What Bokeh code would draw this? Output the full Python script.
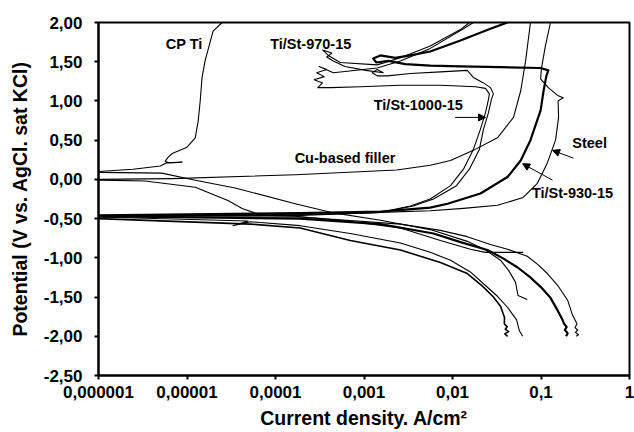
from bokeh.plotting import figure
from bokeh.models import FixedTicker, CustomJSTickFormatter, Label, Arrow, NormalHead
from bokeh.embed import file_html
from bokeh.resources import INLINE

FONT = "Liberation Sans"

# ---- data: current density (A/cm2) and potential (V vs AgCl) ----
cpti_cath_i = [7.0e-2, 5.5e-2, 5.15e-2, 4.3e-2, 3.48e-2, 2.36e-2, 1.47e-2, 5.6e-3, 1.53e-3, 4.2e-4, 1.67e-4, 3.5e-5, 1.24e-5, 5.2e-6, 1.0e-6]
cpti_cath_e = [-1.53, -1.48, -1.31, -1.16, -1.03, -0.90, -0.79, -0.64, -0.52, -0.42, -0.31, -0.11, -0.01, 0.08, 0.09]
cpti_anod_i = [1.0e-6, 2.45e-6, 5.0e-6, 5.8e-6, 8.8e-6, 6.4e-6, 5.65e-6, 6.1e-6, 6.8e-6, 1.0e-5, 1.24e-5, 1.34e-5, 1.41e-5, 1.48e-5, 1.6e-5, 1.97e-5, 2.5e-5]
cpti_anod_e = [0.10, 0.13, 0.17, 0.21, 0.22, 0.21, 0.23, 0.28, 0.33, 0.41, 0.53, 0.75, 1.00, 1.30, 1.51, 1.89, 2.0]

cu_cath_i = [6.3e-2, 2.36e-2, 1.59e-2, 7.3e-3, 2.58e-3, 5.4e-4, 1.67e-4, 8.3e-5, 5.9e-5, 4.2e-5, 2.9e-5, 1.24e-5, 3.36e-6, 1.0e-6]
cu_cath_e = [-0.93, -0.93, -0.89, -0.78, -0.62, -0.52, -0.47, -0.46, -0.43, -0.37, -0.27, -0.10, -0.02, -0.01]
cu_anod_i = [1.0e-6, 6.8e-6, 1.67e-4, 2.34e-3, 5.6e-3, 9.5e-3, 1.72e-2, 3.22e-2, 4.89e-2, 5.9e-2, 6.7e-2, 7.6e-2]
cu_anod_e = [0.0, 0.01, 0.06, 0.12, 0.18, 0.24, 0.37, 0.53, 0.79, 1.13, 1.51, 2.0]

steel_cath_i = [0.25, 0.265, 0.245, 0.26, 0.242, 0.255, 0.227, 0.20, 0.154, 0.118, 9.1e-2, 7.0e-2, 4.18e-2, 2.68e-2, 1.47e-2, 7.3e-3, 2.58e-3, 1.9e-4, 1.0e-6]
steel_cath_e = [-2.0, -1.98, -1.95, -1.92, -1.89, -1.84, -1.73, -1.54, -1.35, -1.20, -1.08, -0.98, -0.89, -0.83, -0.73, -0.65, -0.57, -0.48, -0.48]
steel_anod_i = [1.0e-6, 1.9e-4, 1.53e-3, 5.6e-3, 1.33e-2, 3.22e-2, 6.3e-2, 9.1e-2, 0.118, 0.146, 0.158, 0.156, 0.178, 0.154, 0.121, 9.9e-2, 0.101, 0.112, 0.128]
steel_anod_e = [-0.46, -0.45, -0.42, -0.40, -0.37, -0.33, -0.23, -0.05, 0.21, 0.50, 0.79, 1.00, 1.04, 1.07, 1.17, 1.28, 1.41, 1.70, 2.0]

ti930_cath_i = [0.192, 0.2, 0.186, 0.195, 0.182, 0.175, 0.154, 0.128, 9.9e-2, 7.6e-2, 5.4e-2, 3.77e-2, 2.48e-2, 1.23e-2, 6.1e-3, 1.53e-3, 1.9e-4, 1.0e-6]
ti930_cath_e = [-2.0, -1.96, -1.92, -1.88, -1.84, -1.79, -1.67, -1.51, -1.37, -1.25, -1.12, -1.01, -0.90, -0.80, -0.69, -0.57, -0.50, -0.47]
ti930_anod_i = [1.0e-6, 1.9e-4, 1.53e-3, 5.6e-3, 8.8e-3, 2.07e-2, 4.18e-2, 5.9e-2, 7.6e-2, 9.9e-2, 0.107, 0.115, 0.121,
                9.9e-2, 3.48e-2, 1.23e-2, 5.6e-3, 2.93e-3, 1.88e-3, 1.38e-3, 1.27e-3, 1.53e-3, 2.26e-3, 3.34e-3,
                5.6e-3, 1.23e-2, 2.68e-2, 4.18e-2]
ti930_anod_e = [-0.46, -0.43, -0.41, -0.36, -0.31, -0.18, 0.03, 0.24, 0.50, 0.88, 1.13, 1.32, 1.39,
                1.42, 1.43, 1.44, 1.45, 1.47, 1.51, 1.49, 1.54, 1.58, 1.55, 1.58,
                1.63, 1.77, 1.92, 2.0]

ti1000_cath_i = [6.2e-2, 5.7e-2, 5.3e-2, 4.18e-2, 3.22e-2, 2.24e-2, 1.59e-2, 9.5e-3, 5.6e-3, 2.58e-3, 7.0e-4, 1.9e-4, 5.2e-5, 3.3e-5, 4.9e-5, 1.0e-6]
ti1000_cath_e = [-2.0, -1.93, -1.79, -1.63, -1.49, -1.33, -1.18, -1.03, -0.93, -0.81, -0.69, -0.59, -0.54, -0.59, -0.53, -0.48]
ti1000_anod_i = [1.0e-6, 1.9e-4, 1.53e-3, 3.34e-3, 5.6e-3, 9.5e-3, 1.33e-2, 1.72e-2, 2.07e-2, 2.36e-2, 2.55e-2,
                 2.61e-2, 2.36e-2, 1.82e-2, 7.3e-3, 2.58e-3, 9.1e-4, 4.2e-4, 3.0e-4, 3.4e-4, 2.74e-4, 3.55e-4,
                 2.92e-4, 3.79e-4, 3.12e-4, 4.5e-4, 1.41e-3, 2.58e-3, 5.6e-3, 1.33e-2, 1.72e-2]
ti1000_anod_e = [-0.47, -0.46, -0.42, -0.34, -0.25, -0.08, 0.13, 0.38, 0.64, 0.85, 1.02,
                 1.09, 1.16, 1.18, 1.20, 1.20, 1.18, 1.17, 1.17, 1.23, 1.27, 1.31,
                 1.36, 1.40, 1.44, 1.36, 1.42, 1.51, 1.67, 1.92, 2.0]

ti970_cath_i = [4.2e-2, 3.9e-2, 4.3e-2, 3.95e-2, 4.15e-2, 3.85e-2, 3.87e-2, 3.5e-2, 2.9e-2, 2.18e-2, 1.47e-2, 7.3e-3, 2.58e-3, 7.0e-4, 1.9e-4, 5.2e-5, 1.0e-6]
ti970_cath_e = [-2.0, -1.97, -1.94, -1.91, -1.88, -1.84, -1.76, -1.62, -1.50, -1.36, -1.20, -1.06, -0.90, -0.78, -0.62, -0.57, -0.50]
ti970_anod_i = [1.0e-6, 1.9e-4, 1.61e-3, 3.61e-3, 6.1e-3, 1.11e-2, 1.55e-2, 2.01e-2, 2.24e-2, 2.55e-2, 2.75e-2, 2.9e-2,
                2.68e-2, 2.24e-2, 1.72e-2, 1.47e-2, 7.3e-3, 3.34e-3, 1.84e-3, 1.41e-3, 1.24e-3, 1.41e-3,
                1.65e-3, 1.05e-3, 6.1e-4, 4.5e-4, 3.79e-4, 4.33e-4, 3.4e-4, 3.95e-4, 5.4e-4, 1.41e-3,
                2.58e-3, 5.6e-3, 1.23e-2, 1.55e-2]
ti970_anod_e = [-0.47, -0.45, -0.42, -0.34, -0.25, -0.08, 0.13, 0.38, 0.64, 0.85, 1.02, 1.09,
                1.17, 1.23, 1.30, 1.39, 1.37, 1.35, 1.32, 1.32, 1.36, 1.40,
                1.36, 1.39, 1.44, 1.51, 1.56, 1.61, 1.65, 1.58, 1.49, 1.46,
                1.55, 1.70, 1.91, 2.0]

# annotations
label_texts = ["CP Ti", "Ti/St-970-15", "Ti/St-1000-15", "Cu-based filler", "Steel", "Ti/St-930-15"]
label_x = [9.3e-6, 2.5e-4, 4.11e-3, 6.1e-4, 0.354, 0.227]
label_y = [1.73, 1.73, 0.95, 0.27, 0.47, -0.17]
arrow_x0 = [1.07e-2, 0.233, 0.135]
arrow_y0 = [0.79, 0.27, -0.01]
arrow_x1 = [2.36e-2, 0.135, 6.2e-2]
arrow_y1 = [0.79, 0.37, 0.20]

x_ticks = [1e-6, 1e-5, 1e-4, 1e-3, 1e-2, 1e-1, 1.0]
x_tick_labels = ["0,000001", "0,00001", "0,0001", "0,001", "0,01", "0,1", "1"]
y_ticks = [-2.5, -2.0, -1.5, -1.0, -0.5, 0.0, 0.5, 1.0, 1.5, 2.0]
y_tick_labels = ["-2,50", "-2,00", "-1,50", "-1,00", "-0,50", "0,00", "0,50", "1,00", "1,50", "2,00"]

p = figure(width=634, height=432, x_axis_type="log", x_range=(1e-6, 1.0), y_range=(-2.5, 2.0),
           output_backend="svg", toolbar_location=None,
           min_border_left=98, min_border_right=5, min_border_top=22, min_border_bottom=57)
p.grid.visible = False
p.outline_line_color = "black"
p.outline_line_width = 2
p.background_fill_color = "white"
p.border_fill_color = "white"

thin = [
    (cpti_cath_i, cpti_cath_e), (cpti_anod_i, cpti_anod_e),
    (cu_cath_i, cu_cath_e), (cu_anod_i, cu_anod_e),
    (steel_cath_i, steel_cath_e), (steel_anod_i, steel_anod_e),
    (ti1000_cath_i, ti1000_cath_e), (ti1000_anod_i, ti1000_anod_e),
    (ti970_anod_i, ti970_anod_e),
]
for xs, ys in thin:
    p.line(xs, ys, line_color="black", line_width=1.1, line_join="round")
p.line(ti970_cath_i, ti970_cath_e, line_color="black", line_width=1.6, line_join="round")
p.line(ti930_cath_i, ti930_cath_e, line_color="black", line_width=2.2, line_join="round")
p.line(ti930_anod_i, ti930_anod_e, line_color="black", line_width=2.2, line_join="round")

for t, x, y in zip(label_texts, label_x, label_y):
    p.add_layout(Label(x=x, y=y, text=t, text_align="center", text_baseline="middle",
                       text_font=FONT, text_font_style="bold", text_font_size="14.5px", text_color="black"))
for x0, y0, x1, y1 in zip(arrow_x0, arrow_y0, arrow_x1, arrow_y1):
    p.add_layout(Arrow(x_start=x0, y_start=y0, x_end=x1, y_end=y1, line_width=1, line_color="black",
                       end=NormalHead(size=7, fill_color="black", line_color="black")))

p.xaxis.ticker = FixedTicker(ticks=x_ticks, minor_ticks=[])
p.yaxis.ticker = FixedTicker(ticks=y_ticks, minor_ticks=[])
p.xaxis.formatter = CustomJSTickFormatter(args=dict(labels=x_tick_labels),
                                          code="return labels[Math.round(Math.log10(tick)) + 6];")
p.yaxis.formatter = CustomJSTickFormatter(args=dict(labels=y_tick_labels),
                                          code="return labels[Math.round((tick + 2.5) / 0.5)];")
p.xaxis.axis_label = "Current density. A/cm²"
p.yaxis.axis_label = "Potential (V vs. AgCl. sat KCl)"
for ax in (p.xaxis, p.yaxis):
    ax.axis_line_width = 2
    ax.axis_line_color = "black"
    ax.major_tick_line_width = 2
    ax.major_tick_out = 4
    ax.major_tick_in = 0
    ax.minor_tick_out = 0
    ax.minor_tick_in = 0
    ax.major_label_text_font = FONT
    ax.major_label_text_font_style = "bold"
    ax.major_label_text_font_size = "17px"
    ax.major_label_text_color = "black"
    ax.axis_label_text_font = FONT
    ax.axis_label_text_font_style = "bold"
    ax.axis_label_text_font_size = "19.5px"
    ax.axis_label_text_color = "black"
p.yaxis.major_label_standoff = 12
p.yaxis.axis_label_standoff = 10
p.xaxis.major_label_standoff = 6
p.xaxis.axis_label_standoff = 6

open("out.html", "w").write(file_html(p, INLINE))
